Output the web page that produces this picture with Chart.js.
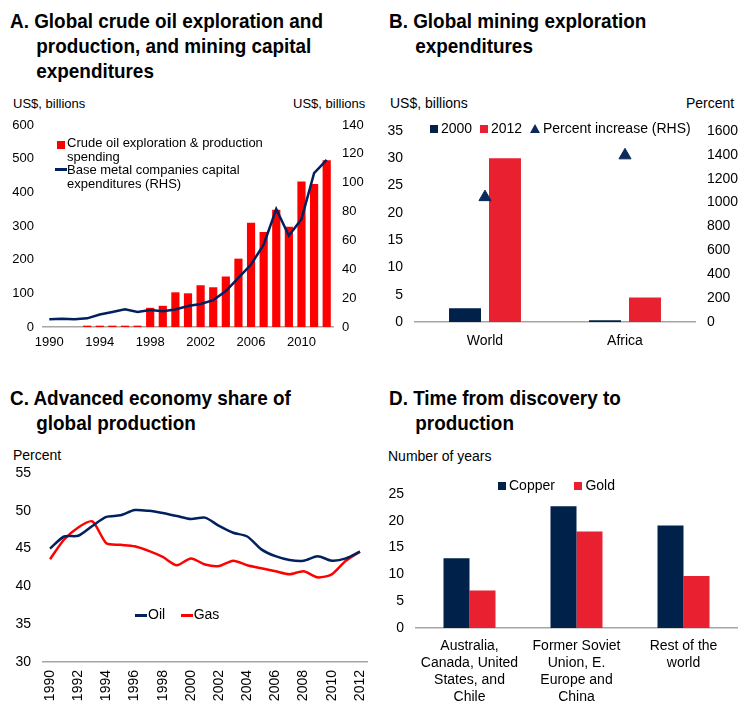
<!DOCTYPE html>
<html>
<head>
<meta charset="utf-8">
<script src="https://cdn.jsdelivr.net/npm/chart.js@4.4.1/dist/chart.umd.min.js"></script>
<style>
body { margin: 0; background: #fff; width: 741px; height: 702px; position: relative; overflow: hidden; font-family: "Liberation Sans", Arial, sans-serif; color: #000; }
.title { position: absolute; font-family: "Liberation Sans", Arial, sans-serif; font-weight: bold; font-size: 21px; line-height: 25px; transform: scaleX(0.9); transform-origin: left top; white-space: nowrap; }
.lbl { position: absolute; font-size: 13px; white-space: nowrap; }
.box { position: absolute; }
.leg { position: absolute; font-size: 13px; line-height: 14px; white-space: nowrap; }
.sq { display: inline-block; width: 8px; height: 8px; margin-right: 3px; }
.ln { display: inline-block; width: 12px; height: 3px; vertical-align: middle; margin-right: 1px; }
.tri { display: inline-block; width: 0; height: 0; border-left: 5px solid transparent; border-right: 5px solid transparent; border-bottom: 9px solid #0b2a5b; margin-right: 3px; }
.ico { position: absolute; }
</style>
</head>
<body>
<div class="title" style="left:10px;top:8px;">A. Global crude oil exploration and<br>&nbsp;&nbsp;&nbsp;&nbsp;&nbsp;production, and mining capital<br>&nbsp;&nbsp;&nbsp;&nbsp;&nbsp;expenditures</div>
<div class="title" style="left:389px;top:8px;">B. Global mining exploration<br>&nbsp;&nbsp;&nbsp;&nbsp;&nbsp;expenditures</div>
<div class="title" style="left:10px;top:385px;">C. Advanced economy share of<br>&nbsp;&nbsp;&nbsp;&nbsp;&nbsp;global production</div>
<div class="title" style="left:389px;top:385px;">D. Time from discovery to<br>&nbsp;&nbsp;&nbsp;&nbsp;&nbsp;production</div>

<div class="lbl" style="left:13px;top:96px;">US$, billions</div>
<div class="lbl" style="left:293px;top:96px;">US$, billions</div>
<div class="lbl" style="left:390px;top:95px;font-size:14px;">US$, billions</div>
<div class="lbl" style="left:686px;top:95px;font-size:14px;">Percent</div>
<div class="lbl" style="left:13px;top:447px;font-size:14px;">Percent</div>
<div class="lbl" style="left:388px;top:448px;font-size:14px;">Number of years</div>

<div class="box" style="left:0px;top:110px;width:370px;height:240px;"><canvas id="chartA"></canvas></div>
<div class="box" style="left:380px;top:110px;width:361px;height:240px;"><canvas id="chartB"></canvas></div>
<div class="box" style="left:0px;top:460px;width:370px;height:242px;"><canvas id="chartC"></canvas></div>
<div class="box" style="left:380px;top:480px;width:361px;height:222px;"><canvas id="chartD"></canvas></div>

<div class="ico" style="left:57px;top:141px;width:8px;height:8px;background:#ff0000;"></div>
<div class="leg" style="left:67px;top:136px;">Crude oil exploration &amp; production<br>spending</div>
<div class="ico" style="left:55px;top:168px;width:12px;height:3px;background:#002060;"></div>
<div class="leg" style="left:67px;top:163px;">Base metal companies capital<br>expenditures (RHS)</div>
<div class="leg" style="left:430px;top:121px;font-size:14px;"><span class="sq" style="background:#00214a;"></span>2000&nbsp;&nbsp;<span class="sq" style="background:#e8202f;"></span>2012&nbsp;&nbsp;<span class="tri"></span>Percent increase (RHS)</div>
<div class="leg" style="left:135px;top:607px;font-size:14px;"><span class="ln" style="background:#002060;"></span>Oil&nbsp;&nbsp;&nbsp;&nbsp;<span class="ln" style="background:#ff0000;"></span>Gas</div>
<div class="leg" style="left:498px;top:478px;font-size:14px;"><span class="sq" style="background:#00214a;"></span>Copper&nbsp;&nbsp;&nbsp;&nbsp;&nbsp;<span class="sq" style="background:#e8202f;"></span>Gold</div>

<script>
// Panel A
var anos = [];
for (var a = 1990; a <= 2012; a++) anos.push(String(a));
var gastoPetroleo = [null, null, null, 4, 4, 4, 4, 4, 57, 63, 103, 100, 124, 118, 150, 203, 310, 282, 348, 298, 432, 425, 495];
var capexMetais = [5.3, 5.8, 5.3, 6, 8.7, 10.4, 12.2, 10.4, 11.7, 11, 12.2, 14.5, 16, 18.6, 24.9, 34, 43.3, 57, 81.7, 63.3, 74.8, 106.6, 115.8];

// Panel B
var regioes = ['World', 'Africa'];
var gasto2000 = [2.5, 0.3];
var gasto2012 = [30, 4.5];
var aumentoPct = [1046, 1396];

// Panel C
var oil = [45.0, 46.6, 46.7, 48.0, 49.2, 49.4, 50.1, 50.0, 49.7, 49.3, 48.9, 49.1, 48.0, 47.1, 46.6, 44.9, 44.0, 43.5, 43.4, 44.0, 43.4, 43.7, 44.6];
var gas = [43.6, 46.2, 47.8, 48.6, 45.7, 45.5, 45.3, 44.7, 43.9, 42.8, 43.7, 42.9, 42.7, 43.4, 42.8, 42.4, 42.0, 41.6, 42.0, 41.2, 41.6, 43.4, 44.6];

// Panel D
var grupos = [['Australia,', 'Canada, United', 'States, and', 'Chile'], ['Former Soviet', 'Union, E.', 'Europe and', 'China'], ['Rest of the', 'world']];
var cobre = [13, 22.7, 19.1];
var ouro = [7, 18, 9.7];

Chart.defaults.font.family = '"Liberation Sans", Arial, sans-serif';
Chart.defaults.font.size = 13;
Chart.defaults.color = '#000';
Chart.defaults.animation = false;

var eixoCinza = '#a6a6a6';
var semGrade = { display: false, drawTicks: false };

// fixa o tamanho dos eixos para a área do gráfico cair no mesmo lugar da referência
function larguraFixa(w) {
    return function (scale) {
        scale.width = w;
        scale.paddingTop = 0;
        scale.paddingBottom = 0;
    };
}
function alturaFixa(h) {
    return function (scale) {
        scale.height = h;
        scale.paddingLeft = 0;
        scale.paddingRight = 0;
    };
}
function semVirgula(value) {
    return String(value);
}

new Chart(document.getElementById('chartA'), {
    type: 'bar',
    data: {
        labels: anos,
        datasets: [{
            type: 'line',
            label: 'Base metal companies capital expenditures (RHS)',
            data: capexMetais,
            yAxisID: 'y1',
            borderColor: '#002060',
            borderWidth: 2.5,
            pointRadius: 0,
            tension: 0,
            order: 0
        }, {
            label: 'Crude oil exploration & production spending',
            data: gastoPetroleo,
            backgroundColor: '#ff0000',
            barPercentage: 0.65,
            categoryPercentage: 1,
            order: 1
        }]
    },
    options: {
        responsive: true,
        maintainAspectRatio: false,
        layout: { padding: { top: 15, left: 0, right: 0, bottom: 0 } },
        plugins: { legend: { display: false }, tooltip: { enabled: false } },
        scales: {
            x: {
                grid: semGrade,
                border: { display: true, color: eixoCinza, width: 1.5 },
                afterFit: alturaFixa(23),
                ticks: {
                    autoSkip: false,
                    maxRotation: 0,
                    padding: 8,
                    callback: function (value, index) {
                        return index % 4 === 0 ? anos[index] : '';
                    }
                }
            },
            y: {
                min: 0, max: 600,
                grid: semGrade,
                border: { display: false },
                afterFit: larguraFixa(43),
                ticks: { stepSize: 100, padding: 9, callback: semVirgula }
            },
            y1: {
                position: 'right',
                min: 0, max: 140,
                grid: semGrade,
                border: { display: false },
                afterFit: larguraFixa(37),
                ticks: { stepSize: 20, padding: 9, callback: semVirgula }
            }
        }
    }
});

new Chart(document.getElementById('chartB'), {
    type: 'bar',
    data: {
        labels: regioes,
        datasets: [{
            type: 'line',
            label: 'Percent increase (RHS)',
            data: aumentoPct,
            yAxisID: 'y1',
            showLine: false,
            pointStyle: 'triangle',
            pointRadius: 7,
            backgroundColor: '#0b2a5b',
            borderColor: '#0b2a5b',
            order: 0
        }, {
            label: '2000',
            data: gasto2000,
            backgroundColor: '#00214a',
            categoryPercentage: 0.571,
            barPercentage: 0.8,
            order: 1
        }, {
            label: '2012',
            data: gasto2012,
            backgroundColor: '#e8202f',
            categoryPercentage: 0.571,
            barPercentage: 0.8,
            order: 1
        }]
    },
    options: {
        responsive: true,
        maintainAspectRatio: false,
        layout: { padding: { top: 21, left: 0, right: 0, bottom: 0 } },
        plugins: { legend: { display: false }, tooltip: { enabled: false } },
        scales: {
            x: {
                grid: semGrade,
                border: { display: true, color: eixoCinza, width: 1.5 },
                afterFit: alturaFixa(28),
                ticks: { maxRotation: 0, padding: 11, font: { size: 14 } }
            },
            y: {
                min: 0, max: 35,
                grid: semGrade,
                border: { display: false },
                afterFit: larguraFixa(35),
                ticks: { stepSize: 5, padding: 12, font: { size: 14 }, callback: semVirgula }
            },
            y1: {
                position: 'right',
                min: 0, max: 1600,
                grid: semGrade,
                border: { display: false },
                afterFit: larguraFixa(46),
                ticks: { stepSize: 200, padding: 12, font: { size: 14 }, callback: semVirgula }
            }
        }
    }
});

new Chart(document.getElementById('chartC'), {
    type: 'line',
    data: {
        labels: anos,
        datasets: [{
            label: 'Oil',
            data: oil,
            borderColor: '#002060',
            borderWidth: 2.5,
            pointRadius: 0,
            tension: 0.25
        }, {
            label: 'Gas',
            data: gas,
            borderColor: '#ff0000',
            borderWidth: 2.5,
            pointRadius: 0,
            tension: 0.25
        }]
    },
    options: {
        responsive: true,
        maintainAspectRatio: false,
        layout: { padding: { top: 13, left: 0, right: 3, bottom: 0 } },
        plugins: { legend: { display: false }, tooltip: { enabled: false } },
        scales: {
            x: {
                offset: true,
                grid: semGrade,
                border: { display: true, color: eixoCinza, width: 1.5 },
                afterFit: alturaFixa(40),
                ticks: {
                    autoSkip: false,
                    minRotation: 90,
                    maxRotation: 90,
                    padding: 8,
                    font: { size: 14 },
                    callback: function (value, index) {
                        return index % 2 === 0 ? anos[index] : '';
                    }
                }
            },
            y: {
                min: 30, max: 55,
                grid: semGrade,
                border: { display: false },
                afterFit: larguraFixa(43),
                ticks: { stepSize: 5, padding: 12, font: { size: 14 }, callback: semVirgula }
            }
        }
    }
});

new Chart(document.getElementById('chartD'), {
    type: 'bar',
    data: {
        labels: grupos,
        datasets: [{
            label: 'Copper',
            data: cobre,
            backgroundColor: '#00214a',
            categoryPercentage: 0.486,
            barPercentage: 1
        }, {
            label: 'Gold',
            data: ouro,
            backgroundColor: '#e8202f',
            categoryPercentage: 0.486,
            barPercentage: 1
        }]
    },
    options: {
        responsive: true,
        maintainAspectRatio: false,
        layout: { padding: { top: 14, left: 0, right: 4, bottom: 0 } },
        plugins: { legend: { display: false }, tooltip: { enabled: false } },
        scales: {
            x: {
                grid: semGrade,
                border: { display: true, color: eixoCinza, width: 1.5 },
                afterFit: alturaFixa(74),
                ticks: { maxRotation: 0, autoSkip: false, padding: 10, font: { size: 14, lineHeight: 1.2 } }
            },
            y: {
                min: 0, max: 25,
                grid: semGrade,
                border: { display: false },
                afterFit: larguraFixa(36),
                ticks: { stepSize: 5, padding: 12, font: { size: 14 }, callback: semVirgula }
            }
        }
    }
});
</script>
</body>
</html>
